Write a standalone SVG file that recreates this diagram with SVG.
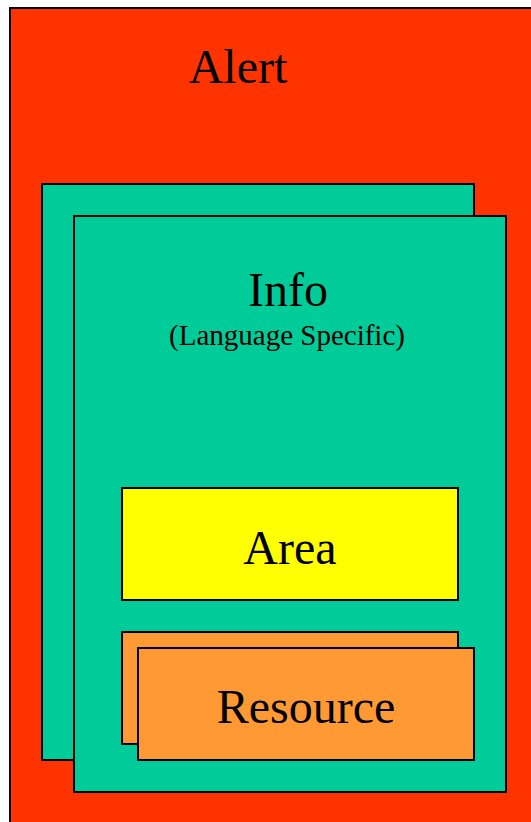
<svg xmlns="http://www.w3.org/2000/svg" width="531" height="822" viewBox="0 0 531 822">
<style>
.b{stroke:#000;stroke-width:2}
.t{font-family:"Liberation Serif","Times New Roman",serif;fill:#000;text-anchor:middle;font-size:48px}
</style>
<rect width="531" height="822" fill="#fff"/>
<g id="alert">
<rect class="b" x="10" y="8" width="540" height="830" fill="#FF3300"/>
<text class="t" x="238" y="83">Alert</text>
</g>
<g id="info-back">
<rect class="b" x="42" y="184" width="432" height="576" fill="#00CC99"/>
</g>
<g id="info">
<rect class="b" x="74" y="216" width="432" height="576" fill="#00CC99"/>
<text class="t" x="288" y="306">Info</text>
<text class="t" x="287" y="345" style="font-size:29px">(Language Specific)</text>
</g>
<g id="area">
<rect class="b" x="122" y="488" width="336" height="112" fill="#FFFF00"/>
<text class="t" x="290" y="564">Area</text>
</g>
<g id="resource-back">
<rect class="b" x="122" y="632" width="336" height="112" fill="#FF9933"/>
</g>
<g id="resource">
<rect class="b" x="138" y="648" width="336" height="112" fill="#FF9933"/>
<text class="t" x="306" y="723">Resource</text>
</g>
<g id="connectors"/>
</svg>
